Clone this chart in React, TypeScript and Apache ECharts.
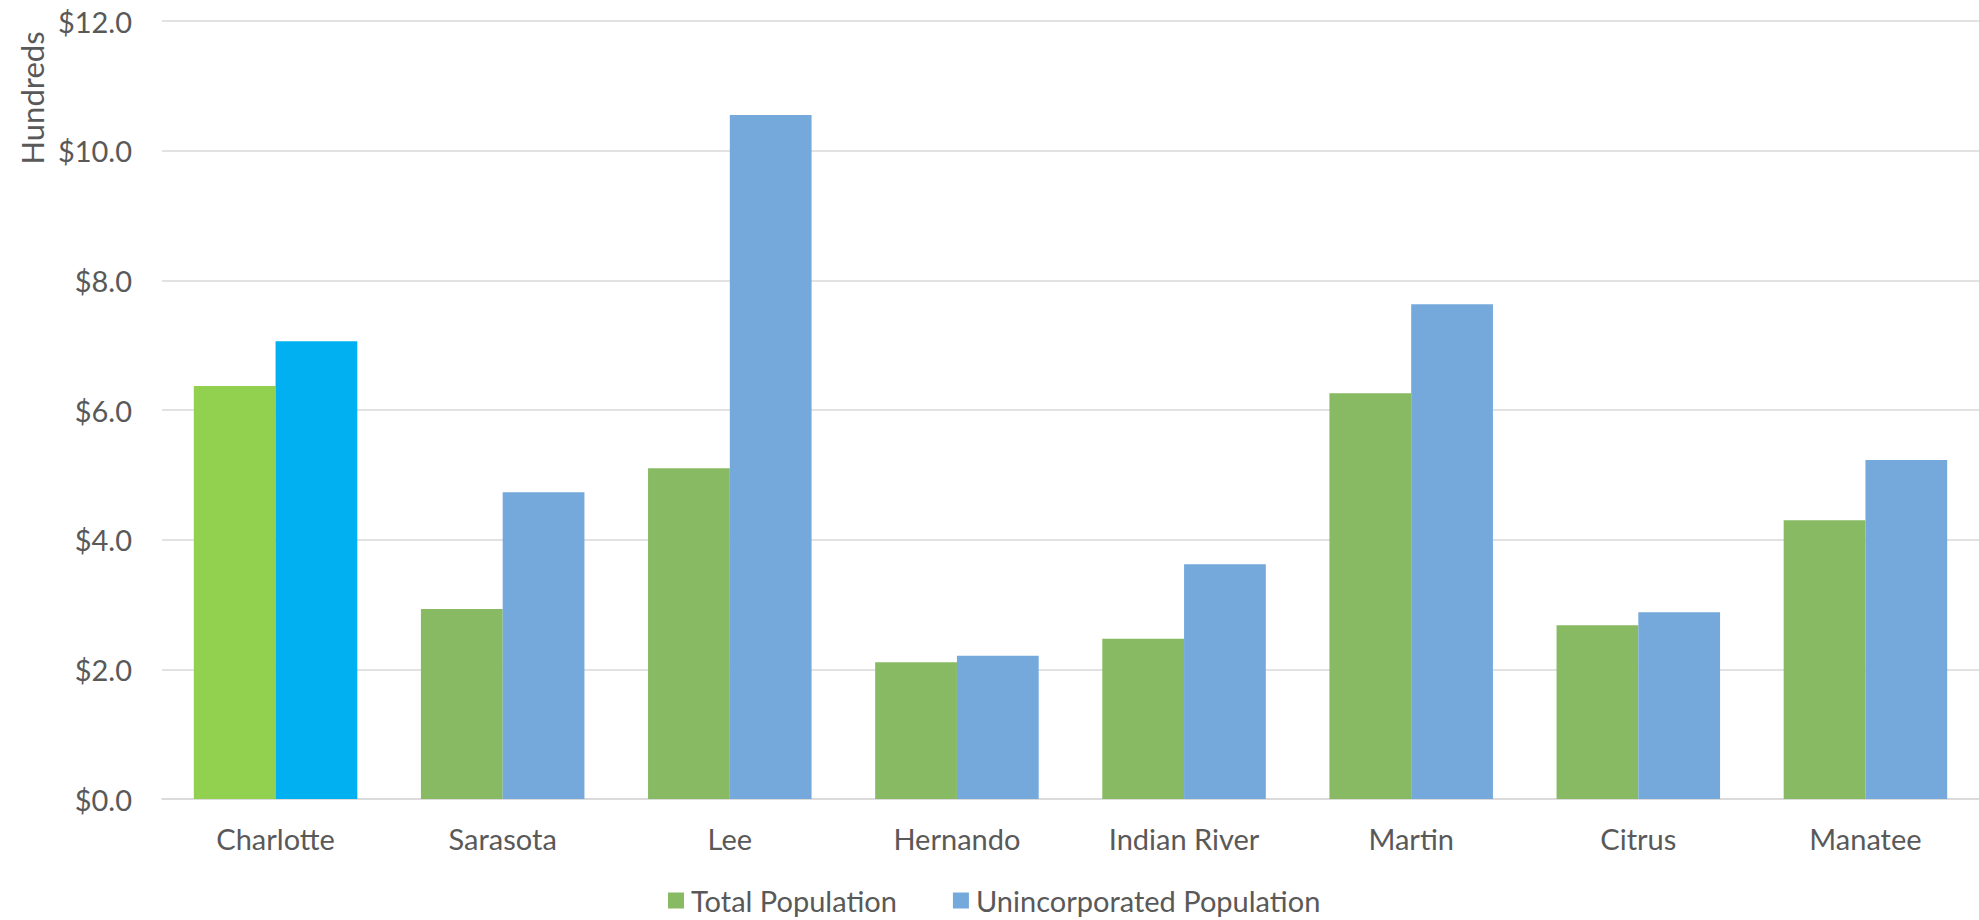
import React, { useEffect, useRef } from "react";
import * as echarts from "echarts";

const categories = ["Charlotte", "Sarasota", "Lee", "Hernando", "Indian River", "Martin", "Citrus", "Manatee"];
const totalPopulation = [6.37, 2.93, 5.1, 2.11, 2.47, 6.26, 2.68, 4.3];
const unincorporatedPopulation = [7.06, 4.73, 10.55, 2.21, 3.62, 7.63, 2.88, 5.23];
const seriesNames = ["Total Population", "Unincorporated Population"];
const yTicks = { min: 0, max: 12, interval: 2 };
const axisTitle = "Hundreds";

const GREEN = "#87BA62";
const BLUE = "#75A9DB";
const HIGHLIGHT_GREEN = "#92D050";
const HIGHLIGHT_BLUE = "#00B0F0";
const TEXT = "#595959";
const GRID = "#D9D9D9";
const FONT = "Lato";

export default function App() {
  const ref = useRef<HTMLDivElement>(null);
  useEffect(() => {
    if (!ref.current) return;
    const chart = echarts.init(ref.current, null, { renderer: "svg" });
    const mk = (vals: number[], hi: string) =>
      vals.map((v, i) => (i === 0 ? { value: v, itemStyle: { color: hi } } : v));
    chart.setOption({
      animation: false,
      backgroundColor: "#ffffff",
      textStyle: { fontFamily: FONT, color: TEXT },
      grid: { left: 162, right: 0, top: 21, bottom: 121, containLabel: false },
      legend: {
        data: seriesNames,
        top: 881,
        left: 663,
        itemWidth: 16,
        itemHeight: 16,
        itemGap: 56,
        icon: "rect",
        textStyle: { fontFamily: FONT, fontSize: 29, color: TEXT, padding: [0, 0, 0, 2] },
      },
      xAxis: {
        type: "category",
        data: categories,
        axisTick: { show: false },
        axisLine: { show: true, lineStyle: { color: GRID, width: 1.5 } },
        axisLabel: { fontFamily: FONT, fontSize: 29, color: TEXT, margin: 25 },
      },
      yAxis: {
        type: "value",
        min: yTicks.min,
        max: yTicks.max,
        interval: yTicks.interval,
        axisLine: { show: false },
        axisTick: { show: false },
        splitLine: { show: true, lineStyle: { color: GRID, width: 1.5 } },
        axisLabel: {
          fontFamily: FONT,
          fontSize: 29,
          color: TEXT,
          margin: 30,
          formatter: (v: number) => "$" + v.toFixed(1),
        },
      },
      graphic: [
        {
          type: "text",
          x: 32,
          y: 98,
          rotation: Math.PI / 2,
          style: {
            text: axisTitle,
            align: "center",
            verticalAlign: "middle",
            fontFamily: FONT,
            fontSize: 31,
            fill: TEXT,
          },
        },
      ],
      series: [
        {
          name: seriesNames[0],
          type: "bar",
          data: mk(totalPopulation, HIGHLIGHT_GREEN),
          itemStyle: { color: GREEN },
          barGap: "0%",
          barCategoryGap: "28%",
        },
        {
          name: seriesNames[1],
          type: "bar",
          data: mk(unincorporatedPopulation, HIGHLIGHT_BLUE),
          itemStyle: { color: BLUE },
          barGap: "0%",
          barCategoryGap: "28%",
        },
      ],
    });
    return () => chart.dispose();
  }, []);
  return (
    <div
      ref={ref}
      style={{ position: "fixed", left: 0, top: 0, width: 1979, height: 920, background: "#fff" }}
    />
  );
}
